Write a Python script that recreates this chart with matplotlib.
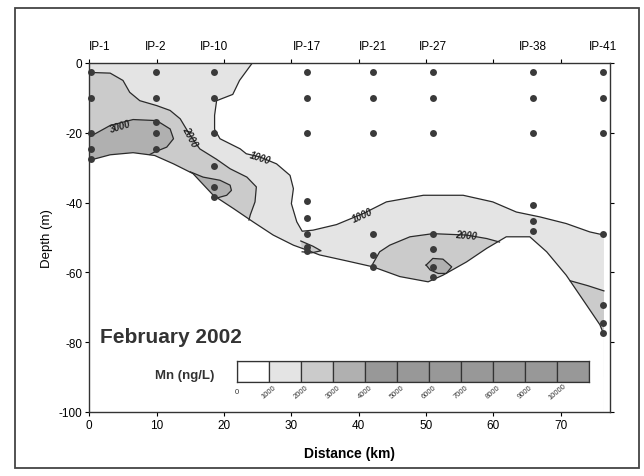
import matplotlib
matplotlib.use("Agg")
import matplotlib.pyplot as plt
from matplotlib.patches import Rectangle

plt.rcParams["font.family"] = ["Liberation Sans", "DejaVu Sans"]
plt.rcParams["axes.unicode_minus"] = False

# ── stations & sample depths ─────────────────────
stations = ["IP-1", "IP-2", "IP-10", "IP-17", "IP-21", "IP-27", "IP-38", "IP-41"]
station_km = [0.2, 9.9, 18.5, 32.3, 42.1, 51.0, 65.9, 76.2]
sample_depths = [
    [-2.5, -10, -20, -24.5, -27.5],
    [-2.5, -10, -17, -20, -24.5],
    [-2.5, -10, -20, -29.5, -35.5, -38.5],
    [-2.5, -10, -20, -39.5, -44.3, -49, -52.6, -54],
    [-2.5, -10, -20, -49, -55, -58.4],
    [-2.5, -10, -20, -49, -53.3, -58.4, -61.2],
    [-2.5, -10, -20, -40.6, -45.2, -48.2],
    [-2.5, -10, -20, -49, -69.3, -74.6, -77.4],
]

# ── seabed (lower edge of the gridded section) ──
seabed_km = [0, 3.1, 6.5, 9.7, 12.5, 15.4, 18.4, 21.4, 24.3, 27.3, 30.3, 32.3,
             34.2, 38.2, 42.1, 46.1, 50.3, 52.5, 56.0, 59.0, 61.9, 65.4, 67.9,
             70.8, 73.8, 75.8, 76.4]
seabed_depth = [-27.9, -26.3, -25.7, -26.5, -28.9, -31.7, -37.9, -41.7, -45.5,
                -49.3, -52.2, -53.6, -55.0, -56.7, -58.4, -61.2, -62.7, -60.8,
                -57.0, -53.1, -49.8, -49.8, -54.1, -60.8, -69.3, -75.0, -77.9]

# ── contour traces (ng/L) ───────────────────────
c1000_km = [24.2, 22.3, 21.3, 18.9, 18.6, 18.6, 19.4, 22.4, 23.3, 25.3, 27.8,
            29.8, 30.3, 30.0, 30.8, 31.6, 33.2, 36.7, 40.7, 44.1, 49.6, 55.5,
            59.9, 63.4, 66.9, 70.8, 74.3, 76.4]
c1000_depth = [0, -5, -9.0, -10.8, -15, -19, -21.7, -24.6, -26, -26.9, -28.9,
               -32.2, -36, -40.3, -45.5, -48.2, -47.9, -46.3, -43.1, -39.8,
               -37.9, -37.9, -39.8, -42.7, -44.1, -46, -48.4, -49.3]

c2000a_km = [0, 3.1, 5.0, 6.0, 7.5, 10.0, 12.0, 13.5, 14.9, 16.4, 18.9, 20.9,
             23.4, 24.8, 24.6, 23.9, 23.7]
c2000a_depth = [-2.7, -2.9, -5.0, -8.4, -10.8, -12.2, -13.6, -16, -20.5, -24.6,
                -27.6, -30.3, -32.7, -35.5, -39.8, -43.5, -45.0]

c3000a_km = [0, 3.1, 6.5, 10.0, 12.0, 12.5, 11.5, 9.7, 9.0]
c3000a_depth = [-21.2, -17.9, -16.2, -16.5, -18.9, -21.7, -24.1, -25.5, -26.2]

c3000b_km = [15.0, 16.9, 19.4, 20.9, 21.1, 20.4, 18.9]
c3000b_depth = [-31.2, -32.7, -33.6, -35.0, -36.5, -37.9, -38.7]

c2000b_km = [41.9, 43.1, 44.6, 47.6, 51.0, 56.0, 59.0, 60.9]
c2000b_depth = [-58.2, -54.1, -52.2, -49.8, -48.9, -49.3, -50.3, -51.3]

c3000c_km = [50.0, 51.0, 52.5, 53.8, 53.0, 51.8, 50.6, 50.0]
c3000c_depth = [-57.9, -56.0, -56.2, -58.4, -60.3, -60.3, -59.3, -57.9]

c2000c_km = [31.4, 33.2, 34.4, 33.0, 31.6]
c2000c_depth = [-51.0, -52.5, -53.8, -54.4, -54.1]

c2000d_km = [71.4, 74.0, 76.4]
c2000d_depth = [-62.4, -63.8, -65.3]

contour_labels = [
    ("1000", 25.4, -27.0, -18),
    ("1000", 40.6, -43.4, 24),
    ("2000", 56.0, -49.3, -5),
    ("2000", 14.9, -20.8, -62),
    ("3000", 4.6, -18.1, 17),
]

# ── colour key ──────────────────────────────────
key_levels = [0, 1000, 2000, 3000, 4000, 5000, 6000, 7000, 8000, 9000, 10000]
key_colors = ["#ffffff", "#e4e4e4", "#cbcbcb", "#b0b0b0", "#989898", "#989898",
              "#989898", "#989898", "#989898", "#989898", "#989898"]
C1, C2, C3 = key_colors[1], key_colors[2], key_colors[3]
LINE = "#2a2a2a"

W, H = 644, 477
fig = plt.figure(figsize=(W / 100, H / 100), dpi=100)
fig.patches.append(Rectangle((14.5 / W, 1 - 469 / H), (639 - 14.5) / W, (469 - 8.5) / H,
                             transform=fig.transFigure, fill=False,
                             edgecolor="#444444", linewidth=1.3))

ax = fig.add_axes([89.3 / W, 1 - 413 / H, (610 - 89.3) / W, (413 - 64) / H])
ax.set_xlim(0, 77.3)
ax.set_ylim(-100, 0)

# filled bands, painted bottom-up; everything under the seabed is blanked later
ax.fill([0] + c1000_km + [76.4, 76.4, 0], [0] + c1000_depth + [-49.3, -100, -100],
        color=C1, lw=0)
ax.fill(c2000a_km + [23.7, 0], c2000a_depth + [-70, -70], color=C2, lw=0)
ax.fill(c3000a_km + [8.5, 0], c3000a_depth + [-40, -40], color=C3, lw=0)
ax.fill(c3000b_km + [18.5, 14.5], c3000b_depth + [-45, -40], color=C3, lw=0)
ax.fill(c2000b_km + [61, 42], c2000b_depth + [-75, -75], color=C2, lw=0)
ax.fill(c3000c_km, c3000c_depth, color=C3, lw=0)
ax.fill(c2000c_km, c2000c_depth, color=C2, lw=0)
ax.fill(c2000d_km + [76.4, 71.4], c2000d_depth + [-90, -90], color=C2, lw=0)
ax.fill(seabed_km + [76.4, 0], seabed_depth + [-100, -100], color="white", lw=0)

for xs, ys in [(c1000_km, c1000_depth), (c2000a_km, c2000a_depth),
               (c3000a_km, c3000a_depth), (c3000b_km, c3000b_depth),
               (c2000b_km, c2000b_depth), (c3000c_km, c3000c_depth),
               (c2000c_km, c2000c_depth), (c2000d_km, c2000d_depth),
               (seabed_km, seabed_depth)]:
    ax.plot(xs, ys, color=LINE, lw=0.9)

for txt, x, y, rot in contour_labels:
    ax.text(x, y, txt, fontsize=7, fontweight="bold", fontstyle="italic",
            rotation=rot, ha="center", va="center", color="#222222",
            rotation_mode="anchor")

for x, depths in zip(station_km, sample_depths):
    ax.plot([x] * len(depths), depths, "o", color="#3a3a3a", ms=5, mec="none",
            clip_on=False)

# axes & ticks
ax.set_xticks(range(0, 80, 10))
ax.set_yticks([0, -20, -40, -60, -80, -100])
ax.tick_params(direction="out", length=3, width=0.8, top=True, right=True,
               labeltop=False, labelright=False, labelsize=8.5, pad=2)
for sp in ax.spines.values():
    sp.set_linewidth(1.0)
    sp.set_color("#333333")
ax.set_xlabel("Distance (km)", fontsize=10, fontweight="bold", labelpad=11)
ax.set_ylabel("Depth (m)", fontsize=9.5, labelpad=4)

for i, (name, x) in enumerate(zip(stations, station_km)):
    ax.annotate(name, (0 if i == 0 else x, 0), xytext=(0, 8),
                textcoords="offset points", ha="left" if i == 0 else "center",
                va="bottom", fontsize=8.5, annotation_clip=False)

ax.text(1.6, -78.5, "February 2002", fontsize=15, fontweight="bold",
        ha="left", va="center", color="#333333")
ax.text(18.6, -89.3, "Mn (ng/L)", fontsize=9.5, fontweight="bold",
        ha="right", va="center", color="#333333")

# colour key as an inset strip
cax = fig.add_axes([236.7 / W, 1 - 383.3 / H, (589.3 - 236.7) / W, 21 / H])
cax.bar(range(len(key_colors)), [1] * len(key_colors), width=1, align="edge",
        color=key_colors, edgecolor="#333333", linewidth=0.9)
cax.set_xlim(0, len(key_colors))
cax.set_ylim(0, 1)
cax.set_xticks([])
cax.set_yticks([])
for sp in cax.spines.values():
    sp.set_linewidth(0.9)
    sp.set_color("#333333")
for i, lev in enumerate(key_levels):
    cax.text(i, -0.42, str(lev), fontsize=5.5, rotation=0 if lev == 0 else 40,
             ha="center", va="center", color="#333333", clip_on=False)

fig.savefig("out.png", dpi=100, facecolor="white")
